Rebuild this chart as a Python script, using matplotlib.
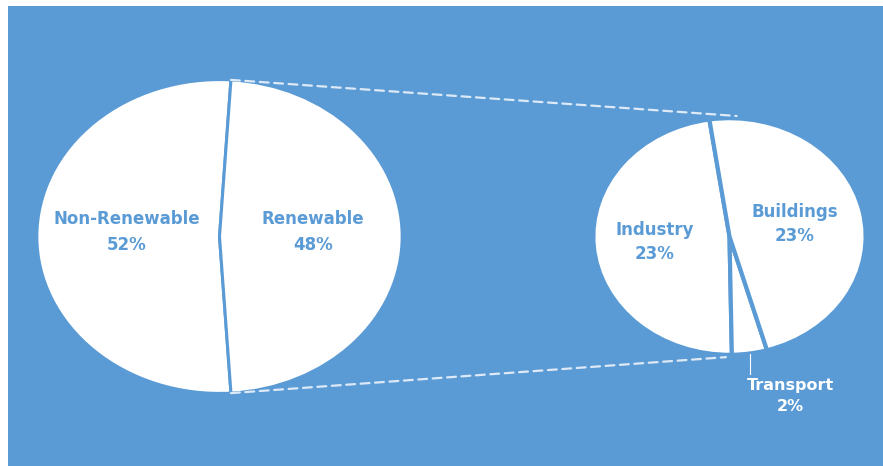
import numpy as np
import matplotlib
matplotlib.use('Agg')
import matplotlib.pyplot as plt
from matplotlib.patches import ConnectionPatch

# --- Data --- #
main_labels = ['Non-Renewable', 'Renewable']
main_shares = [52, 48]
sub_labels = ['Industry', 'Transport', 'Buildings']
sub_shares = [23, 2, 23]

# --- Style --- #
BLUE = '#5B9BD5'
DASH = '#dde9f6'
plt.rcParams['font.family'] = ['DejaVu Sans']

W, H = 883, 466
fig = plt.figure(figsize=(W / 100, H / 100), dpi=100, facecolor='white')

# blue panel behind everything
bg = fig.add_axes([8 / W, 0, (W - 8) / W, (H - 6) / H])
bg.set_facecolor(BLUE)
bg.set_xticks([])
bg.set_yticks([])
for s in bg.spines.values():
    s.set_visible(False)


def pie_axes(x0, y0, x1, y1):
    # box given in pixels from the top-left corner
    ax = fig.add_axes([x0 / W, (H - y1) / H, (x1 - x0) / W, (y1 - y0) / H])
    ax.set_facecolor('none')
    return ax


def draw_pie(ax, values, start, lw):
    wedges, _ = ax.pie(values, startangle=start, counterclock=True,
                       colors=['white'] * len(values),
                       wedgeprops=dict(edgecolor=BLUE, linewidth=lw))
    ax.set_aspect('auto')
    ax.set_xlim(-1.01, 1.01)
    ax.set_ylim(-1.01, 1.01)
    ax.axis('off')
    return wedges


def mid_angle(w):
    return np.deg2rad((w.theta1 + w.theta2) / 2)


# --- Main pie --- #
ax1 = pie_axes(35, 78, 404, 395)
start1 = 180 - main_shares[0] * 3.6 / 2
w1 = draw_pie(ax1, main_shares, start1, 2.2)
for w, name, v in zip(w1, main_labels, main_shares):
    a = mid_angle(w)
    ax1.text(0.51 * np.cos(a), 0.51 * np.sin(a) + 0.03, f'{name}\n{v}%',
             ha='center', va='center', color=BLUE, fontsize=12,
             fontweight='bold', linespacing=1.55)

# --- Breakdown of renewable --- #
ax2 = pie_axes(592, 117, 867, 356)
w2 = draw_pie(ax2, sub_shares, 98.5, 3.0)
for w, name, v in zip(w2, sub_labels, sub_shares):
    a = mid_angle(w)
    if v < 5:
        # small slice: label outside with a leader line
        x, y = np.cos(a), np.sin(a)
        ax2.plot([x, x], [y, -1.16], color='white', lw=0.8, clip_on=False)
        ax2.text(x - 0.02, -1.2, f'{name}\n{v}%', ha='left', va='top',
                 multialignment='center', color='white', fontsize=11.5,
                 fontweight='bold', linespacing=1.5)
        continue
    r = 0.55 if np.cos(a) < 0 else 0.49
    ax2.text(r * np.cos(a), r * np.sin(a), f'{name}\n{v}%',
             ha='center', va='center', color=BLUE, fontsize=12,
             fontweight='bold', linespacing=1.45)

# --- Connector lines between the pies --- #
ren = w1[1]
for a1, a2 in [(ren.theta2, 87), (ren.theta1, -91.5)]:
    t1, t2 = np.deg2rad(a1), np.deg2rad(a2)
    con = ConnectionPatch(xyA=(np.cos(t1), np.sin(t1)), coordsA=ax1.transData,
                          xyB=(np.cos(t2), 1.02 * np.sin(t2)), coordsB=ax2.transData,
                          color=DASH, lw=1.6, linestyle=(0, (4, 2.5)))
    fig.add_artist(con)

fig.savefig('out.png', dpi=100, facecolor='white')
